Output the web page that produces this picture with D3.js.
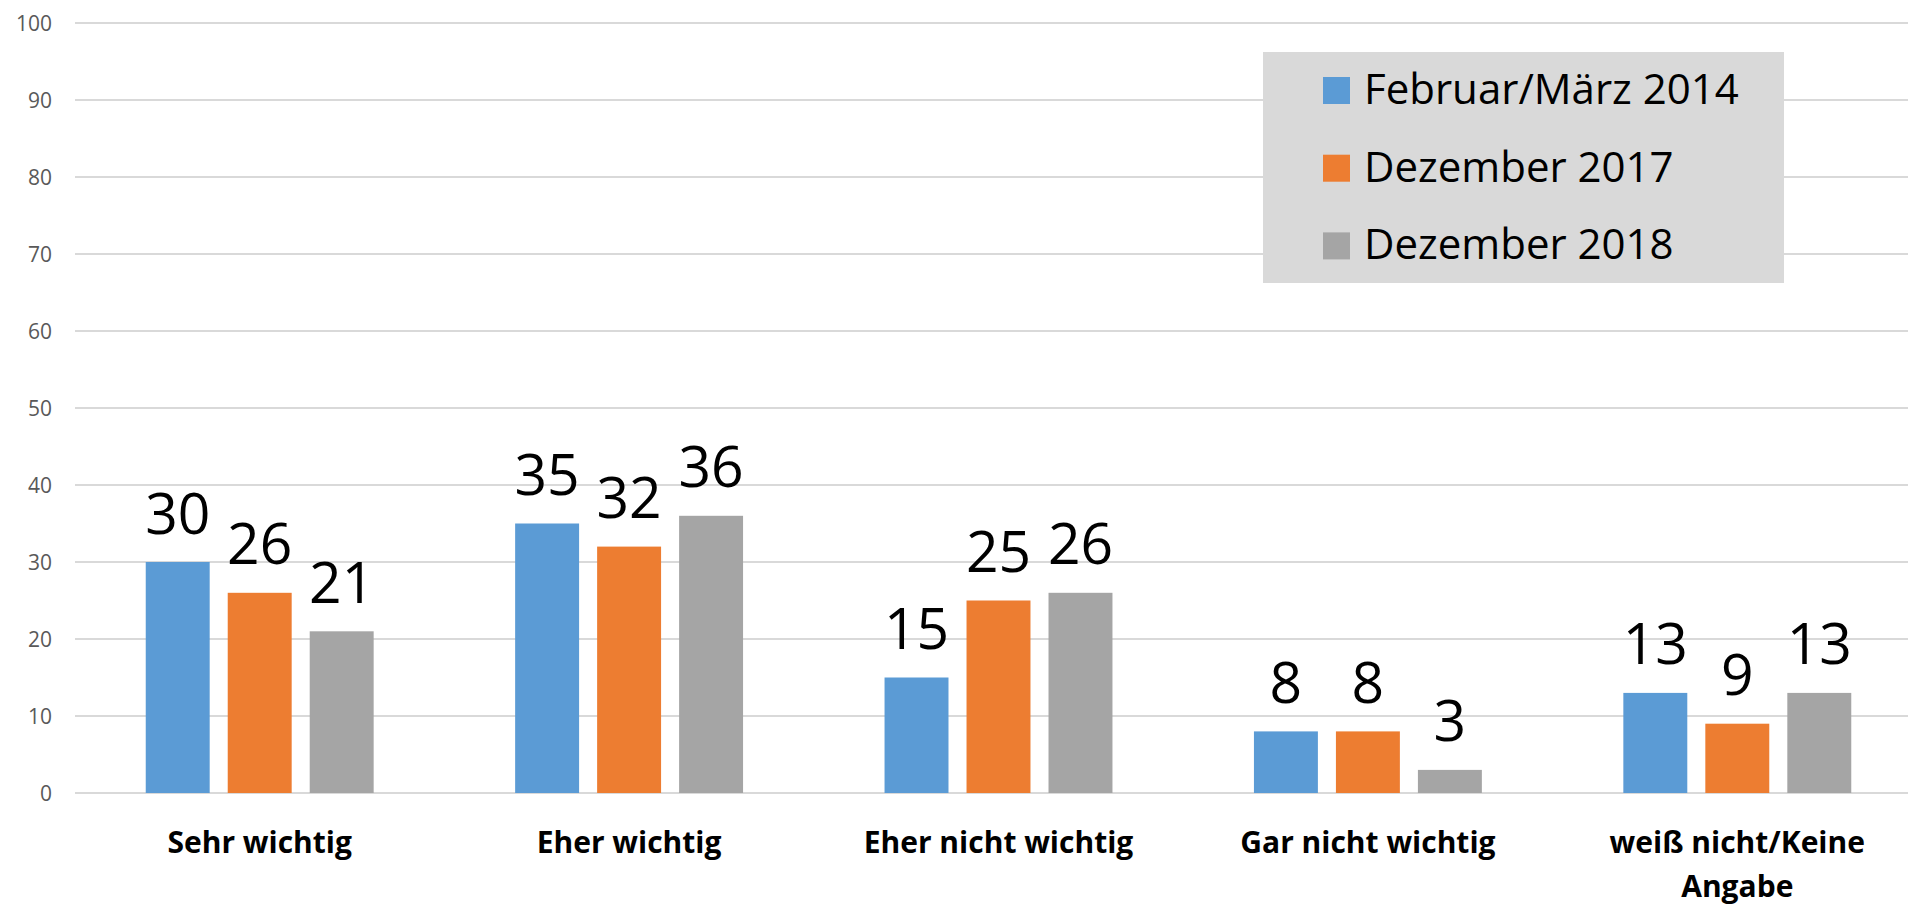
<!DOCTYPE html>
<html>
<head>
<meta charset="utf-8">
<script src="https://cdn.jsdelivr.net/npm/d3@7"></script>
<style>
  body { margin: 0; background: #fff; overflow: hidden; }
  svg { display: block; }
</style>
</head>
<body>
<div id="chart"></div>
<script>
// data
const categories = ["Sehr wichtig", "Eher wichtig", "Eher nicht wichtig", "Gar nicht wichtig", "weiß nicht/Keine Angabe"];
const series = ["Februar/März 2014", "Dezember 2017", "Dezember 2018"];
const values2014 = [30, 35, 15, 8, 13];
const values2017 = [26, 32, 25, 8, 9];
const values2018 = [21, 36, 26, 3, 13];
const yTicks = [0, 10, 20, 30, 40, 50, 60, 70, 80, 90, 100];

const width = 1908;
const height = 904;
const colors = ["#5b9bd5", "#ed7d31", "#a5a5a5"];
const seriesValues = [values2014, values2017, values2018];

const rows = categories.map((c, i) => ({
  cat: c,
  vals: seriesValues.map((s, j) => ({ key: series[j], value: s[i], j: j }))
}));

const svg = d3
  .select("#chart")
  .append("svg")
  .attr("width", width)
  .attr("height", height);

// plot runs a bit past the right edge, like the original screenshot
const x0 = d3
  .scaleBand()
  .domain(categories)
  .range([75, 1922])
  .paddingInner(0.383)
  .paddingOuter(0.1915);

const x1 = d3
  .scaleBand()
  .domain(series)
  .range([0, x0.bandwidth()])
  .paddingInner(0.22);

const y = d3.scaleLinear().domain([0, 100]).range([793, 23]);

// gridlines
svg
  .append("g")
  .selectAll("line")
  .data(yTicks)
  .join("line")
  .attr("x1", 75)
  .attr("x2", width)
  .attr("y1", (d) => y(d))
  .attr("y2", (d) => y(d))
  .attr("stroke", "#d9d9d9")
  .attr("stroke-width", 2);

// y tick labels
svg
  .append("g")
  .selectAll("text")
  .data(yTicks)
  .join("text")
  .attr("x", 52)
  .attr("y", (d) => y(d))
  .attr("dy", "0.36em")
  .attr("text-anchor", "end")
  .attr("font-family", "Open Sans")
  .attr("font-size", 21)
  .attr("fill", "#595959")
  .text((d) => d);

// bars
const groups = svg
  .append("g")
  .selectAll("g")
  .data(rows)
  .join("g")
  .attr("transform", (d) => `translate(${x0(d.cat)},0)`);

groups
  .selectAll("rect")
  .data((d) => d.vals)
  .join("rect")
  .attr("x", (d) => x1(d.key))
  .attr("width", x1.bandwidth())
  .attr("y", (d) => y(d.value))
  .attr("height", (d) => y(0) - y(d.value))
  .attr("fill", (d) => colors[d.j]);

// value labels
groups
  .selectAll("text")
  .data((d) => d.vals)
  .join("text")
  .attr("x", (d) => x1(d.key) + x1.bandwidth() / 2)
  .attr("y", (d) => y(d.value) - 28.5)
  .attr("text-anchor", "middle")
  .attr("font-family", "Open Sans")
  .attr("font-size", 57)
  .attr("fill", "#000")
  .text((d) => d.value);

// category labels (wrap the last one)
const catLabels = svg
  .append("g")
  .selectAll("text")
  .data(categories)
  .join("text")
  .attr("x", (d) => x0(d) + x0.bandwidth() / 2)
  .attr("y", 852.5)
  .attr("text-anchor", "middle")
  .attr("font-family", "Open Sans")
  .attr("font-weight", 700)
  .attr("font-size", 30)
  .attr("fill", "#000");

catLabels.each(function (d) {
  const parts = d === "weiß nicht/Keine Angabe" ? ["weiß nicht/Keine", "Angabe"] : [d];
  d3.select(this)
    .selectAll("tspan")
    .data(parts)
    .join("tspan")
    .attr("x", x0(d) + x0.bandwidth() / 2)
    .attr("dy", (p, i) => (i === 0 ? 0 : 44))
    .text((p) => p);
});

// legend
const legend = svg.append("g");
legend
  .append("rect")
  .attr("x", 1263)
  .attr("y", 52)
  .attr("width", 521)
  .attr("height", 231)
  .attr("fill", "#d9d9d9");

const legendItems = legend
  .selectAll("g")
  .data(series)
  .join("g")
  .attr("transform", (d, i) => `translate(1323,${77 + i * 77.7})`);

legendItems
  .append("rect")
  .attr("width", 27)
  .attr("height", 27)
  .attr("fill", (d, i) => colors[i]);

legendItems
  .append("text")
  .attr("x", 41)
  .attr("y", 27)
  .attr("font-family", "Open Sans")
  .attr("font-size", 42)
  .attr("fill", "#000")
  .text((d) => d);
</script>
</body>
</html>
